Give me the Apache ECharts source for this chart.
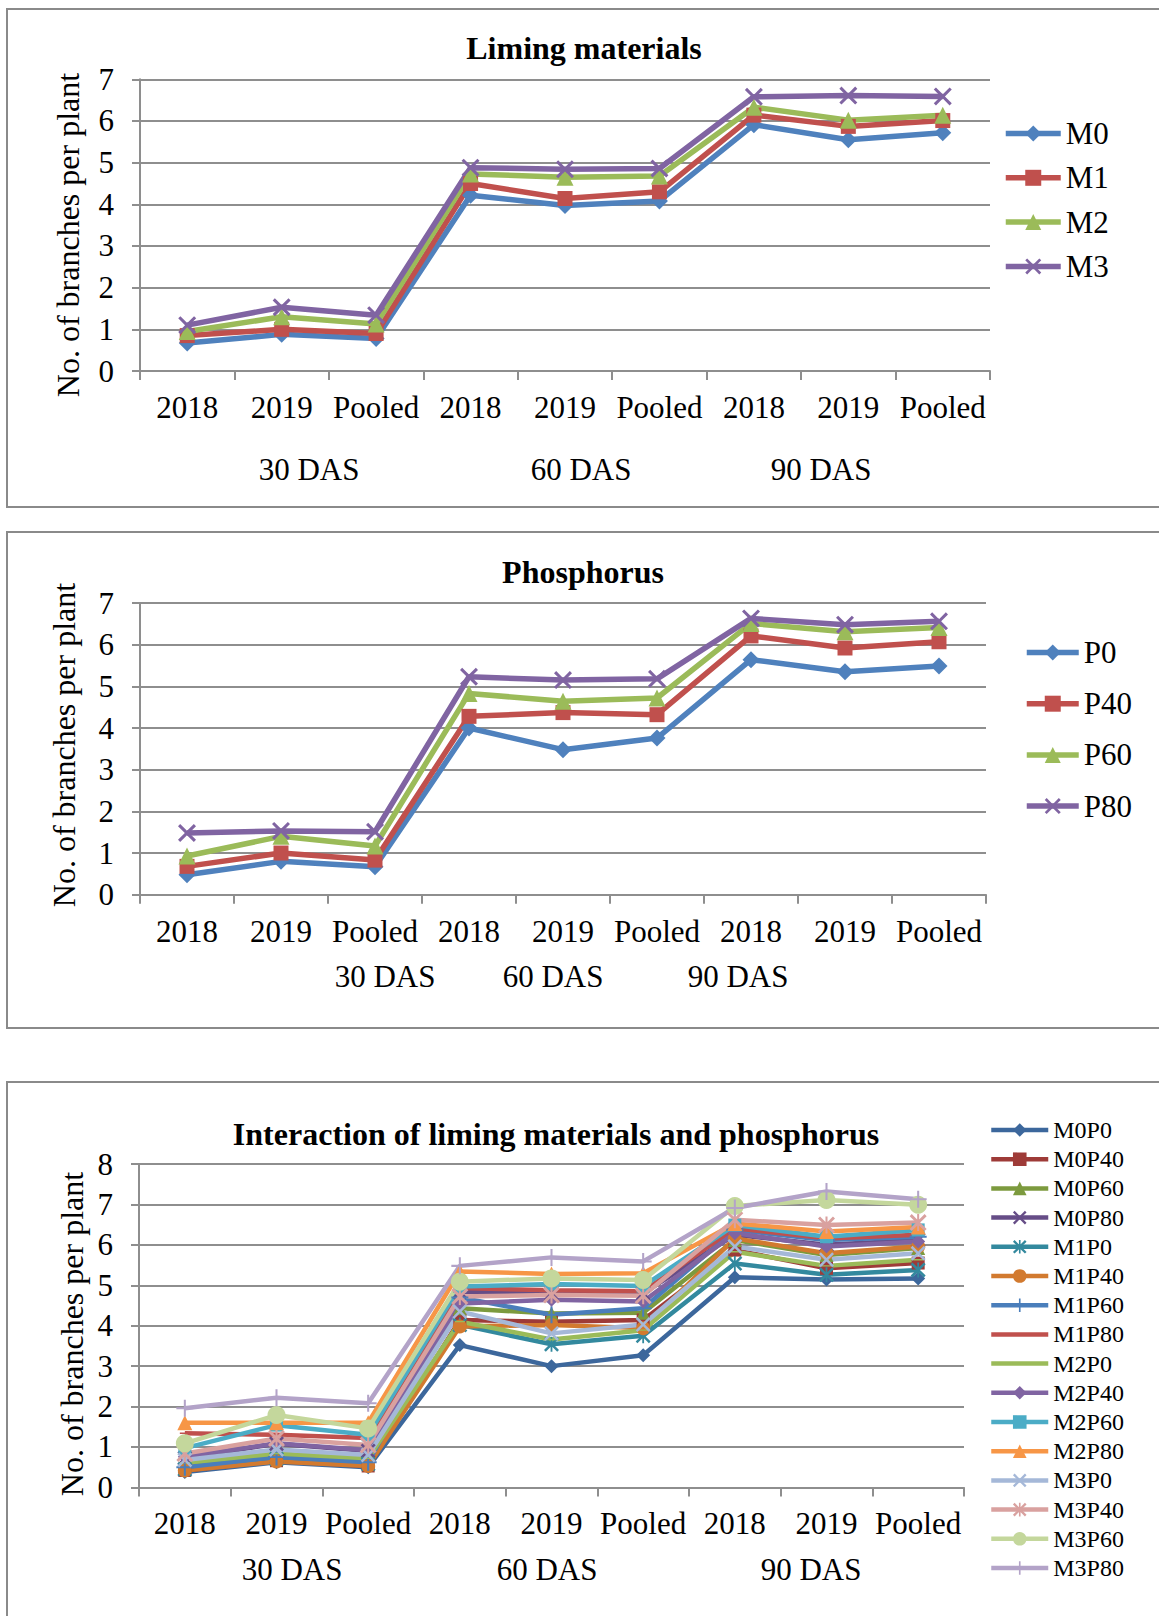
<!DOCTYPE html>
<html>
<head>
<meta charset="utf-8">
<script src="https://cdn.jsdelivr.net/npm/echarts@6/dist/echarts.min.js"></script>
<style>
html,body{margin:0;padding:0;background:#fff;}
#c{width:1159px;height:1616px;}
</style>
</head>
<body>
<div id="c"></div>
<script>
// ---------- data ----------
const categories = ['2018','2019','Pooled','2018','2019','Pooled','2018','2019','Pooled'];
const dasLabels = ['30 DAS','60 DAS','90 DAS'];
const yTitle = 'No. of branches per plant';
const chartTitles = ['Liming materials','Phosphorus','Interaction of liming materials and phosphorus'];

const limingNames = ['M0','M1','M2','M3'];
const M0 = [0.67, 0.88, 0.78, 4.22, 3.97, 4.08, 5.91, 5.55, 5.72];
const M1 = [0.85, 1.00, 0.90, 4.50, 4.14, 4.30, 6.14, 5.87, 6.01];
const M2 = [0.95, 1.30, 1.13, 4.73, 4.65, 4.68, 6.33, 6.02, 6.14];
const M3 = [1.10, 1.53, 1.34, 4.88, 4.84, 4.86, 6.58, 6.61, 6.59];

const phosNames = ['P0','P40','P60','P80'];
const P0  = [0.48, 0.80, 0.67, 4.00, 3.48, 3.76, 5.64, 5.35, 5.49];
const P40 = [0.68, 1.00, 0.83, 4.28, 4.37, 4.32, 6.21, 5.92, 6.07];
const P60 = [0.93, 1.40, 1.17, 4.83, 4.64, 4.72, 6.51, 6.31, 6.41];
const P80 = [1.48, 1.53, 1.51, 5.23, 5.15, 5.18, 6.63, 6.48, 6.56];

const interNames = ['M0P0','M0P40','M0P60','M0P80','M1P0','M1P40','M1P60','M1P80',
                    'M2P0','M2P40','M2P60','M2P80','M3P0','M3P40','M3P60','M3P80'];
const M0P0  = [0.38, 0.62, 0.50, 3.52, 3.00, 3.27, 5.20, 5.14, 5.17];
const M0P40 = [0.42, 0.66, 0.53, 4.14, 4.10, 4.14, 5.87, 5.42, 5.55];
const M0P60 = [0.55, 0.80, 0.68, 4.43, 4.30, 4.32, 6.12, 5.75, 5.92];
const M0P80 = [0.72, 1.08, 0.90, 4.84, 4.80, 4.80, 6.25, 6.00, 6.12];
const M1P0  = [0.45, 0.70, 0.58, 4.02, 3.54, 3.75, 5.54, 5.26, 5.38];
const M1P40 = [0.42, 0.64, 0.53, 3.98, 4.02, 3.94, 6.16, 5.79, 5.96];
const M1P60 = [0.50, 0.75, 0.62, 4.70, 4.27, 4.43, 6.37, 6.12, 6.20];
const M1P80 = [1.34, 1.30, 1.22, 4.93, 4.88, 4.85, 6.41, 6.16, 6.25];
const M2P0  = [0.61, 0.84, 0.72, 4.10, 3.66, 3.89, 5.83, 5.48, 5.63];
const M2P40 = [0.76, 1.09, 0.92, 4.55, 4.64, 4.60, 6.29, 5.96, 6.08];
const M2P60 = [0.97, 1.54, 1.30, 4.97, 5.03, 4.98, 6.49, 6.20, 6.37];
const M2P80 = [1.60, 1.60, 1.60, 5.34, 5.28, 5.30, 6.53, 6.33, 6.44];
const M3P0  = [0.68, 0.94, 0.80, 4.35, 3.81, 4.03, 5.96, 5.63, 5.79];
const M3P40 = [0.84, 1.21, 1.05, 4.72, 4.76, 4.74, 6.62, 6.49, 6.55];
const M3P60 = [1.09, 1.79, 1.46, 5.09, 5.17, 5.13, 6.96, 7.11, 6.99];
const M3P80 = [1.96, 2.22, 2.08, 5.48, 5.69, 5.59, 6.91, 7.32, 7.13];

// ---------- styles ----------
const FONT = '"Liberation Serif","Times New Roman",serif';
const GRID_COLOR = '#8e8e8e';
const SYM_X = 'path://M0,1.2L1.2,0L5,3.8L8.8,0L10,1.2L6.2,5L10,8.8L8.8,10L5,6.2L1.2,10L0,8.8L3.8,5Z';
const SYM_AST = 'path://M0,1.2L1.2,0L5,3.8L8.8,0L10,1.2L6.2,5L10,8.8L8.8,10L5,6.2L1.2,10L0,8.8L3.8,5Z M4.4,0H5.6V10H4.4Z';
const SYM_PLUS = 'path://M4.4,0H5.6V10H4.4Z M0,4.4H10V5.6H0Z';
// short dash marker (degenerate corner points keep the bounding box square)
const SYM_DASH = 'path://M0,0L0.01,0L0,0.01Z M10,10L9.99,10L10,9.99Z M0,4.3H10V5.7H0Z';

const colors4 = ['#4F81BD','#C0504D','#9BBB59','#8064A2'];
const symbols4 = ['diamond','rect','triangle', SYM_X];
const symSizes4 = [17, 15, 17, 18];

const interColors = ['#3C679C','#9E3B38','#7C9A3E','#664D87','#33899E','#D27A2F','#4A7EBB','#C0504D',
                     '#9BBB59','#8064A2','#4BACC6','#F79646','#A5B8D8','#D9A19F','#C4D79C','#B3A3C8'];
const interSymbols = ['diamond','rect','triangle',SYM_X,SYM_AST,'circle',SYM_PLUS,SYM_DASH,
                      SYM_DASH,'diamond','rect','triangle',SYM_X,SYM_AST,'circle',SYM_PLUS];
const interSizes = [14,13,14,15,15,14,17,10,10,14,13,15,15,17,18,17];

// ---------- layout ----------
const grids = [
  {left:140, top:79.3, width:850, height:291.7},
  {left:140, top:603, width:846, height:291.7},
  {left:139, top:1164, width:825, height:323.4}
];

function xAx(i){
  return {
    type:'category', gridIndex:i, data:categories, boundaryGap:true,
    axisLine:{show:true, lineStyle:{color:GRID_COLOR, width:2}},
    axisTick:{show:true, length:9, interval:0, lineStyle:{color:GRID_COLOR, width:2}},
    axisLabel:{interval:0, margin:21, fontFamily:FONT, fontSize:31, color:'#000'},
    splitLine:{show:false}
  };
}
function yAx(i, max){
  return {
    type:'value', gridIndex:i, min:0, max:max, interval:1,
    axisLine:{show:true, lineStyle:{color:GRID_COLOR, width:2}},
    axisTick:{show:true, length:8, lineStyle:{color:GRID_COLOR, width:2}},
    axisLabel:{margin:26, fontFamily:FONT, fontSize:31, color:'#000'},
    splitLine:{show:true, lineStyle:{color:GRID_COLOR, width:2}}
  };
}

const series = [];
const set1 = [M0,M1,M2,M3];
limingNames.forEach((n,k)=>{
  series.push({type:'line', name:n, xAxisIndex:0, yAxisIndex:0, data:set1[k],
    symbol:symbols4[k], symbolSize:symSizes4[k], showAllSymbol:true,
    lineStyle:{width:5.5, color:colors4[k]}, itemStyle:{color:colors4[k]},
    emphasis:{disabled:true}, animation:false});
});
const set2 = [P0,P40,P60,P80];
phosNames.forEach((n,k)=>{
  series.push({type:'line', name:n, xAxisIndex:1, yAxisIndex:1, data:set2[k],
    symbol:symbols4[k], symbolSize:symSizes4[k], showAllSymbol:true,
    lineStyle:{width:5.5, color:colors4[k]}, itemStyle:{color:colors4[k]},
    emphasis:{disabled:true}, animation:false});
});
const set3 = [M0P0,M0P40,M0P60,M0P80,M1P0,M1P40,M1P60,M1P80,M2P0,M2P40,M2P60,M2P80,M3P0,M3P40,M3P60,M3P80];
interNames.forEach((n,k)=>{
  series.push({type:'line', name:n, xAxisIndex:2, yAxisIndex:2, data:set3[k],
    symbol:interSymbols[k], symbolSize:interSizes[k], showAllSymbol:true,
    lineStyle:{width:4.5, color:interColors[k]}, itemStyle:{color:interColors[k]},
    emphasis:{disabled:true}, animation:false});
});

function legend(names, left, top, itemW, itemH, fs, lh, gap, lw){
  return {
    data:names, orient:'vertical', left:left, top:top, itemWidth:itemW, itemHeight:itemH,
    itemGap:gap, selectedMode:false, padding:0,
    lineStyle:{width:lw},
    textStyle:{fontFamily:FONT, fontSize:fs, color:'#000', lineHeight:lh}
  };
}

function txt(t, x, y, fs, bold, rot){
  return {type:'text', x:x, y:y, rotation:rot||0, silent:true,
    style:{text:t, x:0, y:0, align:'center', verticalAlign:'middle',
      font:(bold?'bold ':'')+fs+'px '+FONT, fill:'#000'}};
}

const graphics = [
  {type:'rect', shape:{x:7, y:9, width:1170, height:498}, style:{fill:'none', stroke:'#8a8a8a', lineWidth:2}, silent:true},
  {type:'rect', shape:{x:7, y:532, width:1170, height:496}, style:{fill:'none', stroke:'#8a8a8a', lineWidth:2}, silent:true},
  {type:'rect', shape:{x:7, y:1082, width:1170, height:600}, style:{fill:'none', stroke:'#8a8a8a', lineWidth:2}, silent:true},
  txt(chartTitles[0], 584, 48, 32, true),
  txt(chartTitles[1], 583, 572, 32, true),
  txt(chartTitles[2], 556, 1134, 32, true),
  txt(yTitle, 68, 235, 32, false, Math.PI/2),
  txt(yTitle, 64, 745, 32, false, Math.PI/2),
  txt(yTitle, 72, 1334, 32, false, Math.PI/2)
];
const dasX = [[309,581,821],[385,553,738],[292,547,811]];
const dasY = [469, 976, 1569];
for (let g=0; g<3; g++){
  dasLabels.forEach((t,k)=> graphics.push(txt(t, dasX[g][k], dasY[g], 31, false)));
}

const option = {
  animation:false,
  backgroundColor:'#fff',
  grid:grids,
  xAxis:[xAx(0), xAx(1), xAx(2)],
  yAxis:[yAx(0,7), yAx(1,7), yAx(2,8)],
  legend:[
    legend(limingNames, 1003, 118, 55, 20, 31, 30, 13.3, 5.5),
    legend(phosNames, 1024, 637, 52, 20, 31, 30, 20.2, 5.5),
    legend(interNames, 989, 1118, 57, 17, 24, 23, 5.2, 4.5)
  ],
  graphic:graphics,
  series:series
};

const chart = echarts.init(document.getElementById('c'), null, {renderer:'svg', width:1159, height:1616});
chart.setOption(option);
</script>
</body>
</html>
